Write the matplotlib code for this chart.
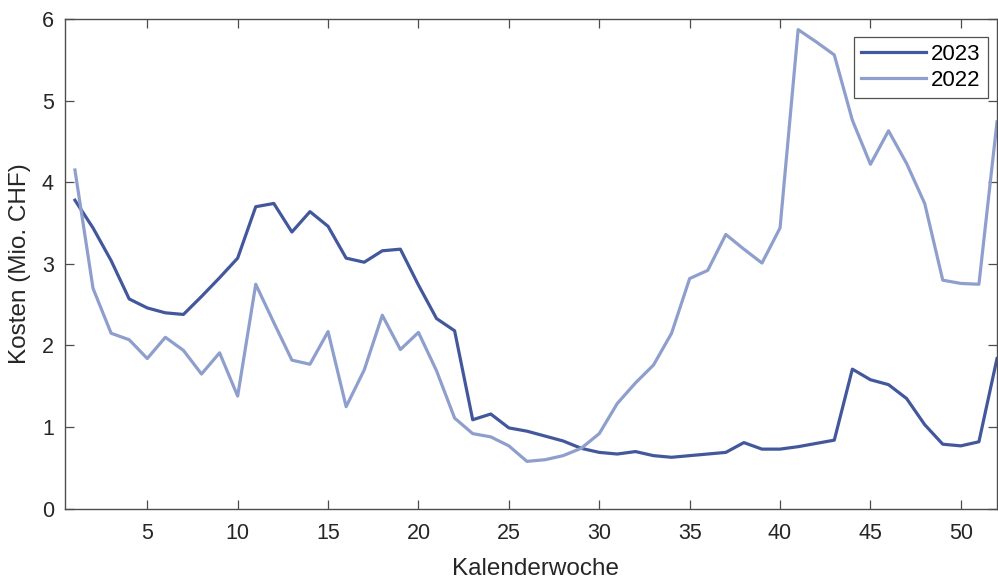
import numpy as np
import matplotlib
matplotlib.use("Agg")
import matplotlib.pyplot as plt

# Weekly costs in Mio. CHF, calendar weeks 1..52
weeks = np.arange(1, 53)

kosten_2023 = [3.78, 3.44, 3.04, 2.57, 2.46, 2.40, 2.38, 2.60, 2.83, 3.07,
               3.70, 3.74, 3.39, 3.64, 3.46, 3.07, 3.02, 3.16, 3.18, 2.74,
               2.33, 2.18, 1.09, 1.16, 0.99, 0.95, 0.89, 0.83, 0.74, 0.69,
               0.67, 0.70, 0.65, 0.63, 0.65, 0.67, 0.69, 0.81, 0.73, 0.73,
               0.76, 0.80, 0.84, 1.71, 1.58, 1.52, 1.35, 1.03, 0.79, 0.77,
               0.82, 1.84]

kosten_2022 = [4.15, 2.70, 2.15, 2.07, 1.84, 2.10, 1.94, 1.65, 1.91, 1.38,
               2.75, 2.28, 1.82, 1.77, 2.17, 1.25, 1.70, 2.37, 1.95, 2.16,
               1.69, 1.11, 0.92, 0.88, 0.77, 0.58, 0.60, 0.65, 0.74, 0.92,
               1.29, 1.54, 1.76, 2.15, 2.82, 2.92, 3.36, 3.18, 3.01, 3.44,
               5.87, 5.72, 5.56, 4.76, 4.22, 4.63, 4.23, 3.74, 2.80, 2.76,
               2.75, 4.74]

x_ticks = [5, 10, 15, 20, 25, 30, 35, 40, 45, 50]
y_ticks = [0, 1, 2, 3, 4, 5, 6]

plt.rcParams['font.family'] = ['Liberation Sans', 'DejaVu Sans']

fig = plt.figure(figsize=(9.98, 5.8), dpi=100)
ax = fig.add_axes([65 / 998, (580 - 508.7) / 580, 932 / 998, 489.7 / 580])

ax.plot(weeks, kosten_2023, color='#43589c', lw=2.3, label='2023')
ax.plot(weeks, kosten_2022, color='#8e9fcd', lw=2.3, label='2022')

ax.set_xlim(0.45, 52)
ax.set_ylim(0, 6)
ax.set_xticks(x_ticks)
ax.set_yticks(y_ticks)

axis_col = '#4d4d4d'
for s in ax.spines.values():
    s.set_color(axis_col)
    s.set_linewidth(1.0)
ax.tick_params(direction='in', length=6.5, width=0.9, color=axis_col,
               labelcolor='#262626', labelsize=15.5, top=True, right=True)
ax.tick_params(axis='x', pad=10)
ax.tick_params(axis='y', pad=8)

ax.set_xlabel('Kalenderwoche', fontsize=17.5, color='#262626')
ax.set_ylabel('Kosten (Mio. CHF)', fontsize=17.5, color='#262626')
ax.xaxis.set_label_coords(0.505, -0.10)
ax.yaxis.set_label_coords(-0.036, 0.5)

leg = ax.legend(loc='upper right', bbox_to_anchor=(0.990, 0.963),
                borderaxespad=0, fontsize=16, frameon=True, fancybox=False,
                handlelength=2.9, handletextpad=0.25, labelspacing=0.22,
                borderpad=0.32)
leg.get_frame().set_edgecolor('#262626')
leg.get_frame().set_linewidth(0.9)

fig.savefig('out.png', dpi=100)
